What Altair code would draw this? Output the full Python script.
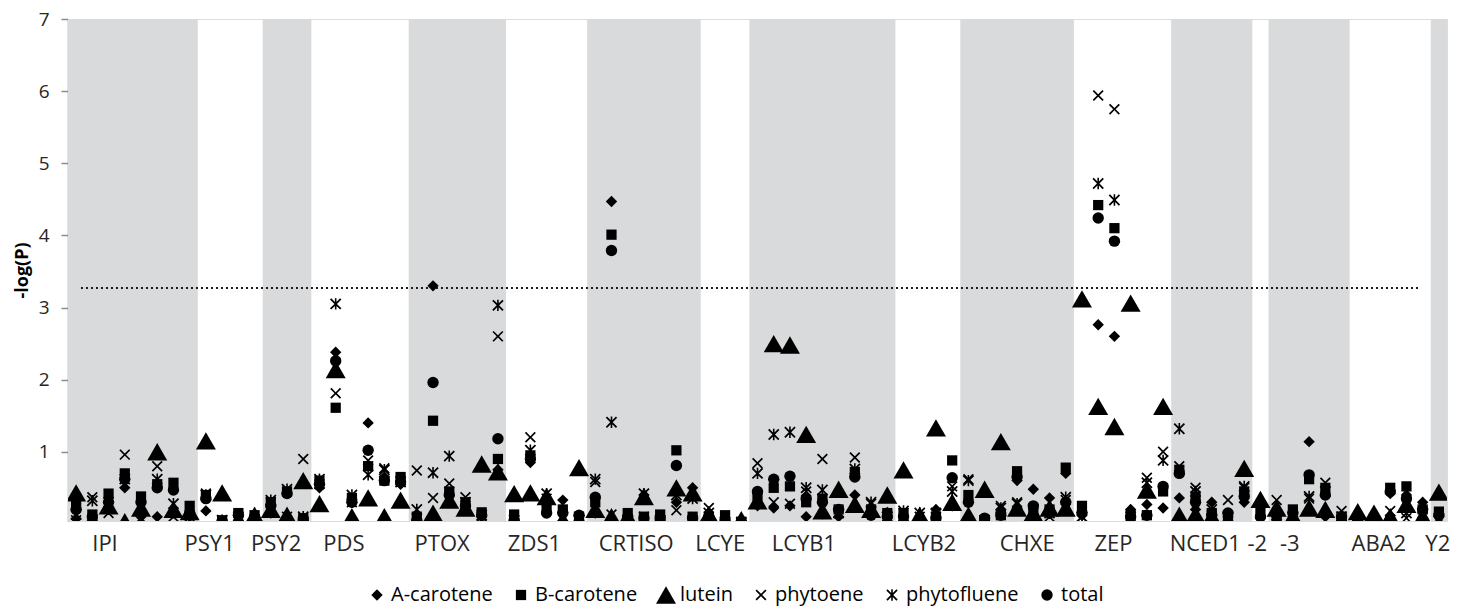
import altair as alt
import pandas as pd
import numpy as np

genes = ["IPI", "PSY1", "PSY2", "PDS", "PTOX", "ZDS1", "CRTISO", "LCYE", "LCYB1",
         "LCYB2", "CHXE", "ZEP", "NCED1", "-2", "-3", "ABA2", "Y2"]
gene_cols = [8, 4, 3, 6, 6, 5, 7, 3, 9, 4, 7, 6, 5, 1, 5, 5, 1]
label_pos = [1.75, 8.2, 12.3, 16.47, 22.53, 28.22, 34.49, 39.67, 44.83,
             52.23, 58.59, 63.91, 69.57, 72.78, 74.78, 80.27, 83.9]

traits = ["A-carotene", "B-carotene", "lutein", "phytoene", "phytofluene", "total"]

a_carotene = [0.07, 0.05, 0.2, 0.5, 0.1, 0.1, 0.15, 0.1,
              0.18, 0.05, 0.05, 0.05,
              0.15, 0.1, 0.05,
              0.5, 2.38, 0.3, 1.4, 0.65, 0.55,
              0.05, 3.3, 0.3, 0.2, 0.1, 0.75,
              0.05, 0.85, 0.3, 0.33, 0.05,
              0.15, 4.47, 0.05, 0.4, 0.05, 0.3, 0.5,
              0.05, 0.03, 0.02,
              0.25, 0.22, 0.25, 0.1, 0.14, 0.1, 0.4, 0.15, 0.16,
              0.05, 0.05, 0.2, 0.25,
              0.1, 0.05, 0.2, 0.6, 0.48, 0.36, 0.7,
              0.12, 2.76, 2.6, 0.2, 0.27, 0.22,
              0.36, 0.2, 0.3, 0.1, 0.3,
              0.25,
              0.1, 0.1, 1.14, 0.1, 0.05,
              0.05, 0.05, 0.42, 0.4, 0.3,
              0.1]
b_carotene = [0.25, 0.13, 0.42, 0.7, 0.38, 0.55, 0.57, 0.25,
              0.4, 0.05, 0.15, 0.12,
              0.3, 0.45, 0.08,
              0.6, 1.61, 0.36, 0.8, 0.6, 0.65,
              0.1, 1.43, 0.45, 0.3, 0.16, 0.9,
              0.13, 0.95, 0.2, 0.2, 0.1,
              0.3, 4.01, 0.15, 0.1, 0.13, 1.02, 0.1,
              0.1, 0.12, 0.03,
              0.38, 0.5, 0.52, 0.3, 0.35, 0.2, 0.72, 0.2, 0.15,
              0.15, 0.05, 0.1, 0.88,
              0.4, 0.05, 0.12, 0.73, 0.2, 0.2, 0.78,
              0.25, 4.42, 4.1, 0.12, 0.12, 0.45,
              0.75, 0.38, 0.15, 0.1, 0.45,
              0.15,
              0.1, 0.2, 0.62, 0.5, 0.1,
              0.05, 0.05, 0.5, 0.52, 0.2,
              0.17]
lutein = [0.43, 0.03, 0.25, 0.03, 0.22, 1.0, 0.2, 0.17,
          1.15, 0.43, 0.05, 0.12,
          0.2, 0.12, 0.6,
          0.28, 2.14, 0.1, 0.36, 0.1, 0.33,
          0.03, 0.15, 0.33, 0.22, 0.83, 0.72,
          0.42, 0.43, 0.38, 0.05, 0.78,
          0.2, 0.1, 0.1, 0.38, 0.05, 0.5, 0.43,
          0.13, 0.03, 0.06,
          0.32, 2.5, 2.48, 1.24, 0.18, 0.48, 0.27, 0.2, 0.4,
          0.75, 0.12, 1.33, 0.3,
          0.12, 0.48, 1.14, 0.22, 0.15, 0.22, 0.22,
          3.12, 1.63, 1.35, 3.06, 0.47, 1.63,
          0.12, 0.13, 0.1, 0.05, 0.77,
          0.34,
          0.22, 0.1, 0.22, 0.2, 0.05,
          0.17, 0.15, 0.1, 0.27, 0.1,
          0.44]
phytoene = [0.05, 0.37, 0.15, 0.96, 0.05, 0.8, 0.1, 0.05,
            0.42, 0.05, 0.05, 0.05,
            0.3, 0.1, 0.9,
            0.55, 1.81, 0.3, 0.88, 0.77, 0.6,
            0.74, 0.36, 0.56, 0.37, 0.1, 2.6,
            0.05, 1.2, 0.35, 0.1, 0.05,
            0.58, 0.13, 0.05, 0.1, 0.05, 0.19, 0.05,
            0.22, 0.03, 0.02,
            0.84, 0.3, 0.28, 0.45, 0.9, 0.15, 0.92, 0.28, 0.1,
            0.15, 0.1, 0.1, 0.52,
            0.62, 0.05, 0.25, 0.3, 0.15, 0.1, 0.33,
            0.1, 5.94, 5.75, 0.05, 0.64, 1.0,
            0.8, 0.5, 0.12, 0.33, 0.5,
            0.05,
            0.33, 0.1, 0.35, 0.57, 0.18,
            0.05, 0.05, 0.18, 0.08, 0.1,
            0.05]
phytofluene = [0.13, 0.32, 0.3, 0.62, 0.08, 0.62, 0.28, 0.1,
               0.4, 0.05, 0.1, 0.05,
               0.33, 0.48, 0.1,
               0.62, 3.05, 0.4, 0.68, 0.75, 0.58,
               0.2, 0.71, 0.94, 0.3, 0.12, 3.03,
               0.05, 1.02, 0.42, 0.1, 0.05,
               0.62, 1.41, 0.05, 0.42, 0.05, 0.4, 0.35,
               0.15, 0.03, 0.02,
               0.7, 1.24, 1.27, 0.5, 0.47, 0.15, 0.76, 0.3, 0.1,
               0.18, 0.15, 0.15, 0.45,
               0.6, 0.05, 0.22, 0.28, 0.2, 0.15, 0.37,
               0.1, 4.72, 4.49, 0.1, 0.57, 0.88,
               1.32, 0.45, 0.2, 0.1, 0.52,
               0.02,
               0.12, 0.1, 0.38, 0.45, 0.1,
               0.05, 0.05, 0.05, 0.15, 0.15,
               0.08]
total = [0.2, 0.1, 0.3, 0.62, 0.3, 0.5, 0.47, 0.15,
         0.35, 0.04, 0.12, 0.1,
         0.25, 0.42, 0.07,
         0.55, 2.26, 0.3, 1.02, 0.6, 0.58,
         0.05, 1.96, 0.4, 0.25, 0.12, 1.18,
         0.05, 0.9, 0.15, 0.15, 0.12,
         0.37, 3.79, 0.1, 0.08, 0.08, 0.81, 0.08,
         0.1, 0.05, 0.02,
         0.45, 0.62, 0.66, 0.35, 0.3, 0.2, 0.65, 0.12, 0.1,
         0.1, 0.05, 0.08, 0.64,
         0.3, 0.08, 0.12, 0.65, 0.25, 0.15, 0.3,
         0.15, 4.24, 3.92, 0.1, 0.12, 0.52,
         0.7, 0.3, 0.12, 0.15, 0.38,
         0.1,
         0.15, 0.15, 0.68, 0.4, 0.1,
         0.05, 0.05, 0.45, 0.35, 0.2,
         0.12]

threshold = 3.27
threshold_span = [0.3, 82.9]

series = [a_carotene, b_carotene, lutein, phytoene, phytofluene, total]
n = sum(gene_cols)

rows = []
for t, vals in zip(traits, series):
    for i, v in enumerate(vals):
        rows.append({"pos": i, "trait": t, "value": v})
points_df = pd.DataFrame(rows)

starts = np.cumsum([0] + gene_cols[:-1])
bands_df = pd.DataFrame({
    "gene": genes,
    "start": starts - 0.5,
    "end": starts + np.array(gene_cols) - 0.5,
    "top": 7,
    "bottom": 0,
})
grey_df = bands_df.iloc[::2].reset_index(drop=True)

thr_df = pd.DataFrame({"x1": [threshold_span[0]], "x2": [threshold_span[1]], "y": [threshold]})

FONT = "Open Sans"
label_expr = "{}[indexof({}, datum.value)]".format(repr(genes), repr(label_pos))

x_scale = alt.Scale(domain=[-0.5, n - 0.5], nice=False, zero=False)
y_scale = alt.Scale(domain=[0.04, 7], nice=False, zero=False)

x_axis = alt.Axis(values=label_pos, labelExpr=label_expr, domain=False, ticks=False,
                  grid=False, labelFontSize=22, labelFont=FONT, labelColor="#262626",
                  labelPadding=12, title=None, labelOverlap=False, labelFlush=False,
                  labelBound=False)
y_axis = alt.Axis(values=[1, 2, 3, 4, 5, 6, 7], format="d", grid=False,
                  domainColor="#8c8c8c", domainWidth=1.5, tickColor="#8c8c8c",
                  tickSize=7, tickWidth=1.5, labelFontSize=19, labelFont=FONT,
                  labelColor="#262626", labelPadding=12, title="-log(P)",
                  titleFont=FONT, titleFontSize=18, titleFontWeight="bold",
                  titleColor="#000000", titlePadding=7)

bands = alt.Chart(grey_df).mark_rect(color="#d9dadb", clip=True).encode(
    x=alt.X("start:Q", scale=x_scale, axis=x_axis),
    x2="end",
    y=alt.Y("top:Q", scale=y_scale, axis=y_axis),
    y2="bottom",
)

rule = alt.Chart(thr_df).mark_rule(strokeDash=[2, 3], strokeWidth=2, color="#1a1a1a").encode(
    x=alt.X("x1:Q", scale=x_scale, axis=x_axis),
    x2="x2",
    y=alt.Y("y:Q", scale=y_scale, axis=y_axis),
)

# filled outline paths for the cross marks (so they render without strokes)
X_PATH = ("M-0.78,-1L0,-0.22L0.78,-1L1,-0.78L0.22,0L1,0.78L0.78,1L0,0.22"
          "L-0.78,1L-1,0.78L-0.22,0L-1,-0.78Z")
STAR_PATH = X_PATH + "M-0.14,-1L0.14,-1L0.14,1L-0.14,1Z"

shape_range = ["diamond", "square", "triangle-up", X_PATH, STAR_PATH, "circle"]
size_range = [130, 105, 400, 120, 130, 130]

leg = dict(orient="none", legendX=299, legendY=566, direction="horizontal", title=None,
           labelFontSize=20, labelFont=FONT, labelColor="#000000", columnPadding=18,
           labelOffset=4, symbolOpacity=1, symbolFillColor="black",
           symbolStrokeWidth=0)

points = alt.Chart(points_df).mark_point(
    filled=True, fill="black", strokeWidth=0, opacity=1, clip=True
).encode(
    x=alt.X("pos:Q", scale=x_scale, axis=x_axis),
    y=alt.Y("value:Q", scale=y_scale, axis=y_axis),
    shape=alt.Shape("trait:N", scale=alt.Scale(domain=traits, range=shape_range),
                    legend=alt.Legend(**leg)),
    size=alt.Size("trait:N", scale=alt.Scale(type="ordinal", domain=traits, range=size_range),
                  legend=alt.Legend(**leg)),
)

chart = alt.layer(bands, rule, points).properties(
    width=1379, height=502,
    autosize=alt.AutoSizeParams(type="none"),
    padding={"left": 60, "top": 11, "right": 5, "bottom": 86},
).configure_view(stroke=None).configure(background="white")

chart.save("out.html", embed_options={"renderer": "svg", "actions": False})
